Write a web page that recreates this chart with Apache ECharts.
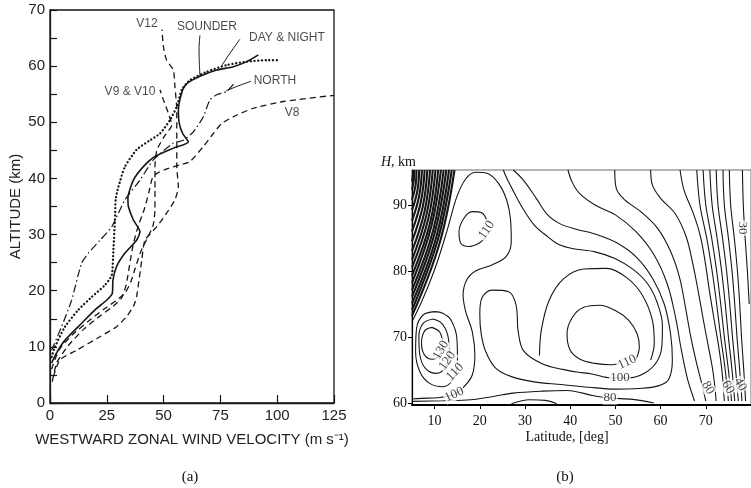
<!DOCTYPE html>
<html><head><meta charset="utf-8">
<script src="https://cdn.jsdelivr.net/npm/echarts@6/dist/echarts.min.js"></script>
<style>html,body{margin:0;padding:0;background:#fff}#c{width:751px;height:488px}</style>
</head><body><div id="c"></div>
<script>
// ---------- Panel (a): westward zonal wind vs altitude ----------
const aXTicks = [0, 25, 50, 75, 100, 125];
const aYTicks = [0, 10, 20, 30, 40, 50, 60, 70];
const sounder = [[0.7,7.1],[3,9],[6.6,11.2],[13.9,14.2],[19.8,16.6],[24.9,18.3],[27.4,19.5],[27.7,21.9],[29.3,24.3],[33,26.7],[38.1,29],[39.6,30.5],[36.7,32.6],[34.5,35],[34.3,36.5],[36.7,39.7],[41.1,42.1],[46.2,43.9],[54.3,45.4],[60.9,46.5],[58.4,48],[56.9,49.8],[56.5,52.2],[58.4,55.8],[60.2,56.9],[66,58.2],[73.4,59.3],[80.7,59.9],[86.6,60.8],[91.7,62.0]];
const dayNight = [[0.7,8.2],[2.2,10],[6.6,13.6],[12.5,16.6],[18.4,18.9],[24.2,21],[27.2,22.8],[27.9,27.3],[28.6,32.6],[28.9,36.2],[30.1,38.5],[33,42.1],[38.1,45.1],[44,46.8],[48.4,48],[52.8,50.4],[55.8,52.8],[58,55.8],[61.6,57.5],[69,59],[77.8,60.2],[86.6,60.8],[95.4,61.05],[101.2,61.05]];
const north = [[0.7,9.4],[5.1,13.6],[9.5,18.3],[13.9,24.9],[16.9,26.7],[22,29],[27.2,31.4],[33,36.2],[39.6,39.7],[45.5,43.3],[54.3,46.3],[58.7,46.8],[63.1,48.3],[67.5,51],[70.4,54],[73.4,54.9],[77.8,55.5],[81.4,57.1]];
const v8 = [[1,3.8],[3,7.2],[8,10.2],[15,13.2],[22,15.5],[28,17.3],[31.5,18.7],[33.5,21],[35,24.5],[36.5,28],[38.8,31.5],[41.5,34.5],[43.5,37.5],[45,40],[47,40.9],[52,41.8],[57.2,42.4],[61.6,43],[67.5,45.7],[71.9,48],[75.6,49.8],[82.2,51.3],[89.5,52.5],[102.7,53.7],[125,54.8]];
const v910 = [[0.7,6],[4,9.5],[10,12.2],[17,14.6],[24,16.8],[29,18.2],[33,19.6],[35.5,21.5],[37.5,24],[40,27],[43,29.5],[45.3,31.5],[46.2,34.5],[46.2,38],[46.2,42],[47,45],[50,47.3],[53.6,49.5],[52.1,51.6],[49.9,54],[48.4,55.8]];
const v12 = [[1.5,4.7],[4.4,7.7],[11.7,9.4],[22,11.8],[29.3,13.6],[33.7,15.4],[36.7,17.2],[38.1,18.9],[40.4,25.5],[41.8,29],[47,31.4],[51.3,33.8],[55,36.2],[56.5,38.5],[55.8,42.1],[55.8,46.8],[55.8,52.2],[55,56.3],[54.3,59.3],[51.3,61.1],[49.9,63.5],[49.3,66.5]];
const sounderLeader = [[66,58.3],[65.6,62.9],[66,65.5]];
const dayNightLeader = [[75.6,60.1],[79.2,62.3],[83.6,64.8]];
const northLeader = [[77.5,55.6],[83.6,56.6],[88.5,57.3]];
const aLabels = [['V12',42.7,67.5],['SOUNDER',69.1,67.1],['DAY & NIGHT',104.3,65.0],['NORTH',99,57.4],['V9 & V10',35.2,55.4],['V8',106.5,51.7]];

// ---------- Panel (b): contour map, latitude vs height ----------
const bXTicks = [10, 20, 30, 40, 50, 60, 70];
const bYTicks = [60, 70, 80, 90];
const bandLines = [
 [[5.3,95.3],[5.2,94.5],[5,93.6]],
 [[5.5,95.3],[5.4,93.8],[5,92.3]],
 [[6.0,95.3],[5.8,93.0],[5,90.8]],
 [[6.6,95.3],[6.2,92.2],[5,89.2]],
 [[7.2,95.3],[6.6,91.4],[5,87.6]],
 [[7.8,95.3],[7.0,90.6],[5,86.0]],
 [[8.4,95.3],[7.4,89.8],[5,84.5]],
 [[9.0,95.3],[7.8,89.1],[5,83.0]],
 [[9.6,95.3],[8.2,88.5],[5,81.7]],
 [[10.2,95.3],[8.6,87.9],[5,80.5]],
 [[10.8,95.3],[9.0,87.3],[5,79.3]],
 [[11.4,95.3],[9.3,86.8],[5,78.2]],
 [[12.0,95.3],[9.7,86.2],[5,77.1]],
 [[12.6,95.3],[10.0,85.7],[5,76.1]],
 [[13.2,95.3],[10.4,85.2],[5,75.1]],
 [[13.8,95.3],[10.7,84.7],[5,74.1]],
 [[14.4,95.3],[11.1,84.2],[5,73.2]]
];
const lobeOuter = [[5,72.3],[7.46,75.86],[10.36,80.91],[12.9,86.46],[14.93,91.26],[16.88,93.94],[19.06,94.95],[21.59,94.8],[24.13,93.28],[25.94,90.76],[26.81,87.73],[26.96,84.44],[25.8,82.17],[22.68,80.91],[19.06,80.0],[17.1,78.64],[16.3,76.36],[16.88,73.84],[18.33,70.81],[18.91,67.27],[18.33,64.24],[16.52,62.47],[14.35,61.31],[10.72,60.81],[7.1,60.71],[5,60.61]];
const upper110 = [[21.6,87.6],[20.5,88.8],[18.3,89.0],[16.5,88.0],[15.4,86.0],[15.8,84.2],[17.6,83.7],[19.8,84.2],[21.0,84.9]];
const lower130 = [[9.42,71.46],[7.83,70.96],[7.1,69.04],[7.68,67.37],[9.42,66.62],[11.01,67.17],[11.74,68.79],[11.16,70.71],[9.42,71.46]];
const lower120 = [[9.64,72.73],[7.46,72.07],[6.52,70.05],[6.74,67.27],[7.97,65.25],[10.36,64.49],[12.32,65.35],[13.26,67.53],[12.9,70.3],[11.59,72.07],[9.64,72.73]];
const lower110 = [[10,73.84],[7.46,73.33],[6.01,71.31],[5.8,67.78],[6.74,64.75],[8.91,62.98],[11.81,62.47],[13.99,63.48],[15.07,66.01],[14.93,69.8],[13.62,72.58],[11.81,73.59],[10,73.84]];
const midWrap = [[27.4,95.3],[29.6,93.8],[32.5,91],[35,88.5],[37.9,87.1],[41.5,86.3],[46,85.5],[50.5,84.2],[54.8,82],[58.3,78.8],[60.8,75],[62.2,70.5],[62.6,66.5],[61.8,63.6],[59.5,62.6],[55,62.2],[50,62.1],[44,62.4],[38,62.8],[32,63.2],[27,64.0],[23.5,65.3],[21.3,67.8],[20.3,70.5],[20.0,73.5],[20.5,76],[22.7,77.1],[26.3,76.9],[28.0,74.9],[28.5,70.8],[29.7,67.9],[33.9,65.9],[38.3,65.1],[41.5,64.7],[44.8,64.4],[49.1,63.8],[52.8,63.8],[56.4,64.5],[59.2,66.3],[60.3,68.8],[60.4,71.8],[59.2,75.3],[57.2,78.0],[54,80.2],[49.9,81.9],[45.5,82.9],[40.4,83.4],[37.5,84],[35,85.2],[32,87],[29.5,89.5],[27.5,92],[26,94],[25.2,95.3]];
const midArc = [[33.2,67.2],[33.6,71],[35.3,75.5],[38.5,78.8],[43,80.3],[48,80.4],[52.5,79],[56,76.3],[58.2,72.5],[58.6,69],[57.8,66.5]];
const mid110 = [[54.5,66.5],[55.3,68.5],[54.8,70.5],[53,72.5],[50,74],[46.5,74.8],[43,74.5],[40.5,73],[39.3,70.5],[40,68],[42.3,66.6],[45.5,66],[49,65.8],[50.8,66]];
const rightLines = [
 [[39.5,95.3],[40.4,93.5],[42,91.8],[45.5,90],[50,88.5],[54.5,86],[58.5,82.5],[61.5,78],[63.3,73],[64.6,68],[66,63.5],[67.5,60.3]],
 [[49.85,95.3],[50.2,92.5],[52,90.8],[55.6,89],[59.3,86.5],[62.2,83],[64.2,79],[65.5,74.5],[66.6,70.3],[67.9,66.2],[69.2,62.7],[70,60.3]],
 [[57.8,95.3],[58.2,93],[60,91],[63.2,88.7],[65.6,85.3],[67.1,81.2],[68.3,77],[69.4,72.8],[70.5,68.8],[71.6,64.7],[72.3,60.3]],
 [[64.3,95.3],[65.2,92.2],[67.2,88.8],[68.8,85.3],[69.9,81.2],[70.8,77],[71.8,72.8],[72.8,68.8],[73.6,64.7],[74.1,60.3]],
 [[68.0,95.3],[68.7,90],[70.2,85],[71.4,80],[72.4,75],[73.3,70],[74.3,65],[75.0,60.3]],
 [[69.4,95.3],[70.0,90],[71.3,85],[72.4,80],[73.3,75],[74.1,70],[75.0,65],[75.7,60.3]],
 [[70.9,95.3],[71.4,90],[72.5,85],[73.5,80],[74.3,75],[75.0,70],[75.8,65],[76.4,60.3]],
 [[72.3,95.3],[72.7,90],[73.7,85],[74.6,80],[75.3,75],[75.9,70],[76.6,65],[77.2,60.3]],
 [[73.8,95.3],[74.1,90],[75.0,85],[75.8,80],[76.4,75],[76.9,70],[77.5,65],[78.0,60.3]],
 [[75.2,95.3],[75.5,90],[76.3,85],[77.0,80],[77.5,75],[77.9,70],[78.4,65],[78.8,60.3]],
 [[78.1,95.3],[78.3,90],[78.7,85],[79.2,80],[79.6,75]]
];
const bottom80 = [[5,60.25],[12,60.35],[18,60.5],[23,61.0],[27.4,61.5],[33.9,61.8],[39.3,61.9],[45.2,61.1],[48.8,60.75],[53.8,60.55],[58.5,60.0]];
const bottomWedge = [[27,59.9],[31,60.5],[34.5,60.4],[37,59.9]];
const contourLabels = [['110',21.5,86.2,55],['130',11.4,68.0,60],['120',12.8,66.4,55],['110',14.5,64.7,45],['100',14.35,61.3,25],['110',52.6,66.2,25],['100',51.0,63.8,0],['80',48.8,60.75,0],['80',70.5,62.3,-60],['60',74.9,62.4,-60],['40',77.6,62.8,-60],['30',78.0,86.5,-90]];

// ---------- build ----------
const ink = '#161616';
const sans = 'Liberation Sans';
const serif = 'Liberation Serif';
function ln(data, idx, style, smooth) {
  return {type:'line', xAxisIndex:idx, yAxisIndex:idx, data:data, symbol:'none', showSymbol:false,
    silent:true, smooth:smooth, lineStyle:Object.assign({color:ink}, style), z:3};
}
const solid = {width:1.6, type:'solid'};
const dotted = {width:2.3, type:[0.1,3.6], cap:'round'};
const dashed = {width:1.3, type:[6,4]};
const dashDot = {width:1.2, type:[8,3,1.5,3]};
const thin = {width:1, type:'solid'};
const cont = {width:1.1, type:'solid'};

const series = [
  ln(sounder,0,solid,0.2), ln(dayNight,0,dotted,0.2), ln(north,0,dashDot,0.2),
  ln(v8,0,dashed,0.2), ln(v910,0,dashed,0.2), ln(v12,0,dashed,0.2),
  ln(sounderLeader,0,thin,0.4), ln(dayNightLeader,0,thin,0.4), ln(northLeader,0,thin,0.4),
  {type:'scatter', xAxisIndex:0, yAxisIndex:0, symbolSize:0, silent:true, z:5,
   data:aLabels.map(d=>({name:d[0], value:[d[1],d[2]]})),
   label:{show:true, formatter:'{b}', position:[0,0], align:'center', verticalAlign:'middle',
          fontFamily:sans, fontSize:12, color:'#1a1a1a'}}
];
bandLines.forEach(l=>series.push(ln(l,1,{width:2.1,type:'solid'},0.4)));
[lobeOuter, upper110, lower130, lower120, lower110, midWrap, midArc, mid110, bottom80, bottomWedge]
  .forEach(l=>series.push(ln(l,1,cont,0.35)));
rightLines.forEach(l=>series.push(ln(l,1,cont,0.35)));
series.push({type:'scatter', xAxisIndex:1, yAxisIndex:1, symbolSize:0, silent:true, z:6,
  data:contourLabels.map(d=>({name:d[0], value:[d[1],d[2]], label:{rotate:d[3]}})),
  label:{show:true, formatter:'{b}', position:[0,0], align:'center', verticalAlign:'middle',
         fontFamily:serif, fontSize:13, color:'#111', backgroundColor:'#fff', padding:[0,1]}});

const option = {
  animation:false,
  backgroundColor:'#fff',
  grid:[
    {left:50, top:10, width:284, height:393, show:true, borderColor:ink, borderWidth:1.3, backgroundColor:'transparent'},
    {left:412, top:170, width:345, height:235, show:true, borderColor:'#6a6a6a', borderWidth:1, backgroundColor:'transparent'}
  ],
  xAxis:[
    {gridIndex:0, type:'value', min:0, max:125, interval:25,
     axisLine:{lineStyle:{color:ink, width:1.3}},
     axisTick:{inside:true, length:8, lineStyle:{color:ink, width:1.2}},
     axisLabel:{margin:5, color:'#222', fontFamily:sans, fontSize:15,
                formatter:v=>aXTicks.includes(v)?String(v):''},
     splitLine:{show:false},
     name:'WESTWARD ZONAL WIND VELOCITY (m s\u207B\u00B9)', nameLocation:'middle', nameGap:29,
     nameTextStyle:{fontFamily:sans, fontSize:15, color:'#222'}},
    {gridIndex:1, type:'value', min:5, max:80,
     axisLine:{lineStyle:{color:'#000', width:2}},
     axisTick:{show:true, customValues:bXTicks, length:4, lineStyle:{color:'#000'}},
     axisLabel:{customValues:bXTicks, margin:9, color:'#111', fontFamily:serif, fontSize:14},
     splitLine:{show:false},
     name:'Latitude, [deg]', nameLocation:'middle', nameGap:25,
     nameTextStyle:{fontFamily:serif, fontSize:14, color:'#111', padding:[0,29,0,0]}}
  ],
  yAxis:[
    {gridIndex:0, type:'value', min:0, max:70, interval:5,
     axisLine:{lineStyle:{color:ink, width:1.3}},
     axisTick:{inside:true, length:7, lineStyle:{color:ink, width:1.2}},
     axisLabel:{margin:5, color:'#222', fontFamily:sans, fontSize:15,
                formatter:v=>aYTicks.includes(v)?String(v):''},
     splitLine:{show:false},
     name:'ALTITUDE (km)', nameLocation:'middle', nameGap:27,
     nameTextStyle:{fontFamily:sans, fontSize:15, color:'#222'}},
    {gridIndex:1, type:'value', min:59.7, max:95.3,
     axisLine:{lineStyle:{color:'#000', width:1.2}},
     axisTick:{show:true, customValues:bYTicks, length:4, lineStyle:{color:'#000'}},
     axisLabel:{customValues:bYTicks, margin:5, color:'#111', fontFamily:serif, fontSize:14},
     splitLine:{show:false},
     name:'{i|H}, km', nameLocation:'end', nameGap:1,
     nameTextStyle:{fontFamily:serif, fontSize:14, color:'#111', align:'right', padding:[0,-4,0,0],
                    rich:{i:{fontStyle:'italic', fontFamily:serif, fontSize:14, color:'#111'}}}}
  ],
  graphic:[
    {type:'text', x:190, y:477, style:{text:'(a)', align:'center', verticalAlign:'middle', font:'15px "Liberation Serif"', fill:'#111'}},
    {type:'text', x:565, y:477, style:{text:'(b)', align:'center', verticalAlign:'middle', font:'15px "Liberation Serif"', fill:'#111'}}
  ],
  series:series
};
const chart = echarts.init(document.getElementById('c'));
chart.setOption(option);
</script></body></html>
